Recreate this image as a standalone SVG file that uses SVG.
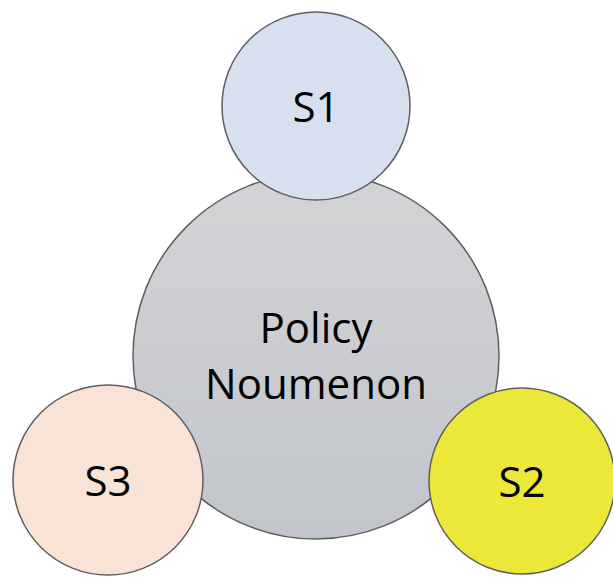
<svg xmlns="http://www.w3.org/2000/svg" width="613" height="577" viewBox="0 0 613 577">
<style>
.c{stroke:#5f5f5f;stroke-width:1.5}
.t{font-family:"Open Sans","Noto Sans",sans-serif;font-size:42px;fill:#000;text-anchor:middle}
</style>
<defs>
<linearGradient id="g" x1="0" y1="0" x2="0" y2="1">
<stop offset="0" stop-color="#d3d4d6"/>
<stop offset="1" stop-color="#c2c5cb"/>
</linearGradient>
</defs>
<rect width="613" height="577" fill="#fff"/>
<g id="policy">
<circle class="c" cx="316" cy="356" r="183" fill="url(#g)"/>
<text class="t" x="316" y="343">Policy</text>
<text class="t" x="316" y="399">Noumenon</text>
</g>
<g id="s1">
<circle class="c" cx="316" cy="106" r="94" fill="#d7e0ee"/>
<text class="t" x="316" y="122">S1</text>
</g>
<g id="s3">
<circle class="c" cx="108" cy="480" r="95" fill="#f9e3d6"/>
<text class="t" x="108" y="496">S3</text>
</g>
<g id="s2">
<circle class="c" cx="522" cy="481" r="93" fill="#ece83a"/>
<text class="t" x="522" y="497">S2</text>
</g>
<g id="connectors"/>
</svg>
